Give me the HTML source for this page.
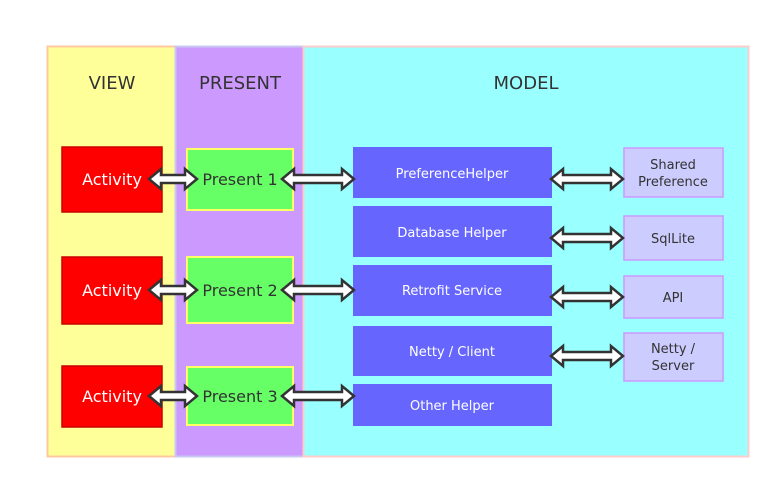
<!DOCTYPE html>
<html><head><meta charset="utf-8"><style>
html,body{margin:0;padding:0;background:#fff;width:781px;height:489px;overflow:hidden}
svg text{font-family:"DejaVu Sans","Liberation Sans",sans-serif}
</style></head><body>
<svg width="781" height="489" xmlns="http://www.w3.org/2000/svg">
<defs>
<polygon id="a48" points="0,0 12,-10 12,-4 36,-4 36,-10 48,0 36,10 36,4 12,4 12,10" fill="#fff" stroke="#333" stroke-width="2.5" stroke-linejoin="miter"/>
<polygon id="a72" points="0,0 12,-10 12,-4 60,-4 60,-10 72,0 60,10 60,4 12,4 12,10" fill="#fff" stroke="#333" stroke-width="2.5" stroke-linejoin="miter"/>
</defs>
<rect x="47.5" y="46.5" width="128" height="410" fill="#ffff99" stroke="#ffc8a0" stroke-width="2"/>
<rect x="175.5" y="46.5" width="128" height="410" fill="#cc99ff" stroke="#c8c8f0" stroke-width="2"/>
<rect x="303.5" y="46.5" width="445" height="410" fill="#99ffff" stroke="#ffcccc" stroke-width="2"/>
<g font-size="18" fill="#333" text-anchor="middle">
<text x="112" y="89">VIEW</text>
<text x="240" y="89">PRESENT</text>
<text x="526" y="89">MODEL</text>
</g>
<g fill="#ff0000" stroke="#cc0000" stroke-width="1.5">
<rect x="62" y="147" width="100" height="65"/>
<rect x="62" y="257" width="100" height="67"/>
<rect x="62" y="366" width="100" height="61"/>
</g>
<g fill="#fff" font-size="16" text-anchor="middle">
<text x="112" y="185">Activity</text>
<text x="112" y="296">Activity</text>
<text x="112" y="402">Activity</text>
</g>
<g fill="#66ff66" stroke="#ffff66" stroke-width="2">
<rect x="187" y="149" width="106" height="61"/>
<rect x="187" y="257" width="106" height="66"/>
<rect x="187" y="367" width="106" height="58"/>
</g>
<g fill="#333" font-size="16" text-anchor="middle">
<text x="240" y="185">Present 1</text>
<text x="240" y="296">Present 2</text>
<text x="240" y="402">Present 3</text>
</g>
<g fill="#6666ff">
<rect x="353" y="147" width="199" height="51"/>
<rect x="353" y="206" width="199" height="51"/>
<rect x="353" y="265" width="199" height="51"/>
<rect x="353" y="326" width="199" height="50"/>
<rect x="353" y="384" width="199" height="42"/>
</g>
<g fill="#fff" font-size="13" text-anchor="middle">
<text x="452" y="178">PreferenceHelper</text>
<text x="452" y="237">Database Helper</text>
<text x="452" y="295">Retrofit Service</text>
<text x="452" y="356">Netty / Client</text>
<text x="452" y="410">Other Helper</text>
</g>
<g fill="#ccccff" stroke="#cc99ff" stroke-width="1.5">
<rect x="624" y="148" width="99" height="49"/>
<rect x="624" y="216" width="99" height="44"/>
<rect x="624" y="276" width="99" height="42"/>
<rect x="624" y="333" width="99" height="48"/>
</g>
<g fill="#333" font-size="13" text-anchor="middle">
<text x="673" y="169">Shared</text>
<text x="673" y="186">Preference</text>
<text x="673" y="243">SqlLite</text>
<text x="673" y="302">API</text>
<text x="673" y="353">Netty /</text>
<text x="673" y="370">Server</text>
</g>
<use href="#a48" transform="translate(149,179)"/>
<use href="#a48" transform="translate(149,290)"/>
<use href="#a48" transform="translate(149,396)"/>
<use href="#a72" transform="translate(282,179)"/>
<use href="#a72" transform="translate(282,290)"/>
<use href="#a72" transform="translate(282,396)"/>
<use href="#a72" transform="translate(551,179)"/>
<use href="#a72" transform="translate(551,238)"/>
<use href="#a72" transform="translate(551,297)"/>
<use href="#a72" transform="translate(551,356)"/>
</svg>
</body></html>
